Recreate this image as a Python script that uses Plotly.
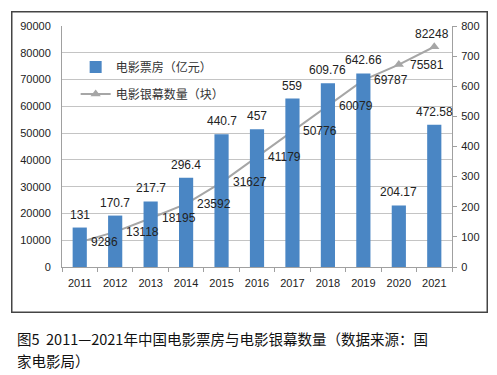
import plotly.graph_objects as go

years = ["2011", "2012", "2013", "2014", "2015", "2016", "2017", "2018", "2019", "2020", "2021"]
box_office = [131, 170.7, 217.7, 296.4, 440.7, 457, 559, 609.76, 642.66, 204.17, 472.58]
box_office_labels = ["131", "170.7", "217.7", "296.4", "440.7", "457", "559", "609.76", "642.66", "204.17", "472.58"]
screens = [9286, 13118, 18195, 23592, 31627, 41179, 50776, 60079, 69787, 75581, 82248]

FONT = "Liberation Sans, Noto Sans CJK SC, sans-serif"
CJK = "Noto Sans CJK SC, sans-serif"

fig = go.Figure()
fig.add_trace(go.Bar(
    x=years, y=box_office, name="电影票房（亿元）", yaxis="y2",
    marker=dict(color="#4A86C4", line=dict(width=0)),
    legendgroup="a",
))
fig.add_trace(go.Scatter(
    x=years, y=screens, name="电影银幕数量（块）", yaxis="y",
    mode="lines+markers",
    line=dict(color="#A6A6A6", width=2),
    marker=dict(symbol="triangle-up", size=9, color="#A6A6A6"),
    legendgroup="b",
))

annotations = []
for i, (v, t) in enumerate(zip(box_office, box_office_labels)):
    annotations.append(dict(x=i, y=v, xref="x", yref="y2", text=t, showarrow=False,
                            yanchor="bottom", yshift=4, font=dict(size=12, color="#222", family=FONT)))
for i, v in enumerate(screens):
    if i == len(screens) - 1:
        annotations.append(dict(x=i, y=v, xref="x", yref="y", text=str(v), showarrow=False,
                                yanchor="bottom", yshift=4, xshift=-2,
                                font=dict(size=12, color="#222", family=FONT)))
    else:
        annotations.append(dict(x=i, y=v, xref="x", yref="y", text=str(v), showarrow=False,
                                xanchor="left", xshift=9, yanchor="middle",
                                font=dict(size=12, color="#222", family=FONT)))

annotations.append(dict(x=-0.12, y=-0.298, xref="paper", yref="paper", xanchor="left", yanchor="middle",
                        text="图5  2011—2021年中国电影票房与电影银幕数量（数据来源：国",
                        showarrow=False, font=dict(size=14.5, color="#111", family=CJK)))
annotations.append(dict(x=-0.12, y=-0.388, xref="paper", yref="paper", xanchor="left", yanchor="middle",
                        text="家电影局）",
                        showarrow=False, font=dict(size=14.5, color="#111", family=CJK)))

# chart frame drawn as an empty bordered annotation box
annotations.append(dict(x=0.481, y=0.4365, xref="paper", yref="paper", xanchor="center", yanchor="middle",
                        text=" ", showarrow=False, width=474, height=299, borderpad=0,
                        bordercolor="#444444", borderwidth=1.5, bgcolor="rgba(0,0,0,0)"))

fig.update_layout(
    width=489, height=367,
    margin=dict(l=49, r=45, t=15, b=108),
    paper_bgcolor="white", plot_bgcolor="white",
    bargap=0.6,
    font=dict(family=FONT, size=11, color="#222"),
    showlegend=True,
    legend=dict(x=0.035, y=0.89, xanchor="left", yanchor="top", bgcolor="rgba(0,0,0,0)",
                font=dict(size=12, family=CJK, color="#333"), traceorder="grouped",
                tracegroupgap=8, itemwidth=30),
    xaxis=dict(type="category", categoryorder="array", categoryarray=years,
               range=[-0.5, len(years) - 0.5], autorange=False,
               showline=True, linecolor="#A0A0A0", ticks="outside", tickson="boundaries",
               ticklen=4, tickcolor="#A0A0A0", showgrid=False, ticklabelstandoff=6,
               tickfont=dict(size=11, color="#222")),
    yaxis=dict(range=[0, 90000], dtick=10000, tickformat="d", showgrid=True, gridcolor="#C4C4C4",
               showline=True, linecolor="#A0A0A0", ticks="", zeroline=False, ticklabelstandoff=8,
               tickfont=dict(size=11, color="#222")),
    yaxis2=dict(range=[0, 800], dtick=100, overlaying="y", side="right", showgrid=False,
                showline=True, linecolor="#A0A0A0", ticks="outside", ticklen=4,
                tickcolor="#A0A0A0", zeroline=False, ticklabelstandoff=2,
                tickfont=dict(size=11, color="#222")),
    annotations=annotations,
)

fig.write_html("out.html")
